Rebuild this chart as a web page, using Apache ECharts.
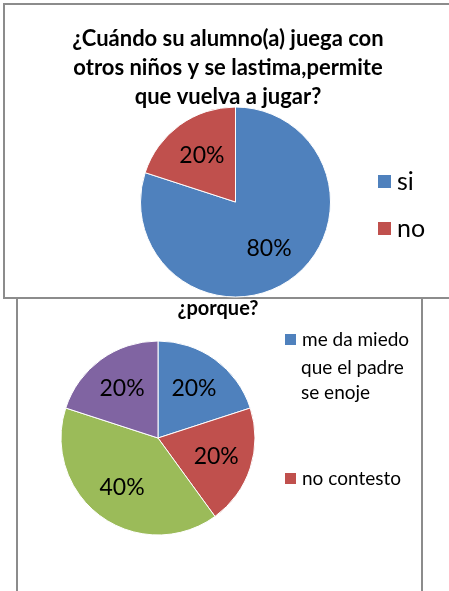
<!DOCTYPE html>
<html>
<head>
<meta charset="utf-8">
<script src="https://cdn.jsdelivr.net/npm/echarts@6/dist/echarts.min.js"></script>
<style>
html,body{margin:0;padding:0;background:#fff;}
#c{width:449px;height:591px;}
</style>
</head>
<body>
<div id="c"></div>
<script>
const title1 = '¿Cuándo su alumno(a) juega con\notros niños y se lastima,permite\nque vuelva a jugar?';
const cats1 = ['si', 'no'];
const vals1 = [80, 20];
const colors1 = ['#4F81BD', '#C0504D'];

const title2 = '¿porque?';
const cats2 = ['me da miedo\nque el padre\nse enoje', 'no contesto', 'otro', 'otra'];
const vals2 = [20, 20, 40, 20];
const colors2 = ['#4F81BD', '#C0504D', '#9BBB59', '#8064A2'];
const legend2 = ['me da miedo\nque el padre\nse enoje', 'no contesto'];

const FONT = 'Lato';
const chart = echarts.init(document.getElementById('c'), null, {renderer: 'canvas'});

function mk(cats, vals) {
  return cats.map((n, i) => ({name: n, value: vals[i]}));
}

const C1 = [235.5, 202], R1 = 95;
const C2 = [158, 438], R2 = 97;

const sliceStyle = {borderColor: '#ffffff', borderWidth: 1};
const labelStyle = {fontFamily: FONT, fontSize: 23, color: '#000'};
const leg2Lines = legend2[0].split('\n');

chart.setOption({
  animation: false,
  graphic: [
    {type: 'rect', z: 0, shape: {x: 17, y: 280, width: 405, height: 340},
     style: {fill: '#fff', stroke: '#8c8c8c', lineWidth: 2}},
    {type: 'rect', z: 1, shape: {x: 4, y: 4, width: 470, height: 294},
     style: {fill: '#fff', stroke: '#8c8c8c', lineWidth: 2}},
    {type: 'text', z: 5, x: 301, y: 355,
     style: {text: leg2Lines.slice(1).join('\n'), font: '19px Lato', lineHeight: 25.5,
             fill: '#000', verticalAlign: 'top', textAlign: 'left'}}
  ],
  title: [
    {text: title1, left: 228, top: 24, textAlign: 'center', padding: 0,
     textStyle: {fontFamily: FONT, fontWeight: 'bold', fontSize: 22, lineHeight: 29, color: '#000'}},
    {text: title2, left: 218, top: 298, textAlign: 'center', padding: 0,
     textStyle: {fontFamily: FONT, fontWeight: 'bold', fontSize: 20, lineHeight: 22, color: '#000'}}
  ],
  legend: [
    {data: cats1, orient: 'vertical', left: 376, top: 169, padding: 0, itemGap: 22,
     icon: 'rect', itemWidth: 15, itemHeight: 15, selectedMode: false,
     textStyle: {fontFamily: FONT, fontSize: 25, color: '#000'}},
    {data: [legend2[0]], orient: 'vertical', left: 283, top: 330, padding: 0,
     icon: 'rect', itemWidth: 13, itemHeight: 13, selectedMode: false,
     formatter: n => n.split('\n')[0],
     textStyle: {fontFamily: FONT, fontSize: 19, color: '#000'}},
    {data: [legend2[1]], orient: 'vertical', left: 283, top: 469, padding: 0,
     icon: 'rect', itemWidth: 13, itemHeight: 13, selectedMode: false,
     textStyle: {fontFamily: FONT, fontSize: 19, color: '#000'}}
  ],
  series: [
    {type: 'pie', center: C1, radius: [0, R1], startAngle: 90, clockwise: true,
     data: mk(cats1, vals1), color: colors1, itemStyle: sliceStyle,
     label: {show: false}, labelLine: {show: false}, emphasis: {disabled: true}, silent: true},
    {type: 'pie', center: C2, radius: [0, R2], startAngle: 90, clockwise: true,
     data: mk(cats2, vals2), color: colors2, itemStyle: sliceStyle,
     label: {show: false}, labelLine: {show: false}, emphasis: {disabled: true}, silent: true},
    {type: 'pie', center: C1, radius: [0, R1 * 1.14], startAngle: 90, clockwise: true, z: 3,
     data: mk(cats1, vals1), itemStyle: {color: 'transparent'}, silent: true,
     label: Object.assign({show: true, position: 'inside', formatter: '{c}%'}, labelStyle),
     labelLine: {show: false}, emphasis: {disabled: true}},
    {type: 'pie', center: C2, radius: [0, R2 * 1.2], startAngle: 90, clockwise: true, z: 3,
     data: mk(cats2, vals2), itemStyle: {color: 'transparent'}, silent: true,
     label: Object.assign({show: true, position: 'inside', formatter: '{c}%'}, labelStyle),
     labelLine: {show: false}, emphasis: {disabled: true}}
  ]
});
</script>
</body>
</html>
